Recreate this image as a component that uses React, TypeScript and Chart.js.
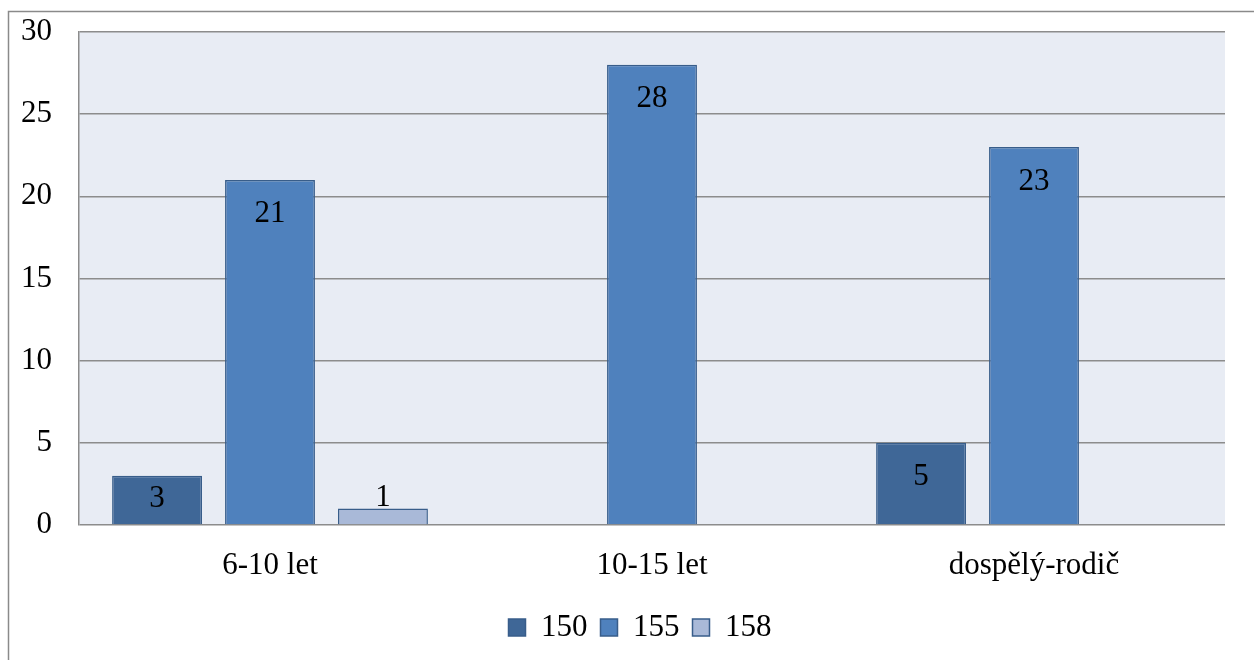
import { useEffect, useRef } from "react";
import { Chart, registerables } from "chart.js";

Chart.register(...registerables);

// Age groups on the category axis
const categories = ["6-10 let", "10-15 let", "dospělý-rodič"];
// Series names shown in the legend
const seriesNames = ["150", "155", "158"];
// Counts per series (null = no bar in that group)
const values150: (number | null)[] = [3, null, 5];
const values155: (number | null)[] = [21, 28, 23];
const values158: (number | null)[] = [1, null, null];
// Value axis range
const yMin = 0;
const yMax = 30;
const yStep = 5;

const FONT = '"Liberation Serif", "Times New Roman", serif';
const FONT_SIZE = 31;

// Outer frame and plot-area fill
const backgroundPlugin = {
  id: "frameAndPlotFill",
  afterLayout(chart: any) {
    // centre the legend under the plot rather than the whole canvas
    if (chart.legend) chart.legend.left += 55;
  },
  beforeDraw(chart: any) {
    const { ctx, chartArea } = chart;
    ctx.save();
    ctx.fillStyle = "#ffffff";
    ctx.fillRect(0, 0, chart.width, chart.height);
    ctx.strokeStyle = "#8a8a8a";
    ctx.lineWidth = 1.5;
    ctx.strokeRect(8.5, 11.5, chart.width + 20, chart.height + 20);
    ctx.fillStyle = "#e8ecf4";
    ctx.fillRect(
      chartArea.left,
      chartArea.top,
      chartArea.right - chartArea.left,
      chartArea.bottom - chartArea.top
    );
    ctx.restore();
  },
};

// Value labels near the end of each bar
const valueLabelPlugin = {
  id: "valueLabels",
  afterDatasetsDraw(chart: any) {
    const { ctx } = chart;
    ctx.save();
    ctx.font = `${FONT_SIZE}px ${FONT}`;
    ctx.fillStyle = "#000000";
    ctx.textAlign = "center";
    ctx.textBaseline = "alphabetic";
    const halfDigit = FONT_SIZE * 0.338;
    chart.data.datasets.forEach((ds: any, di: number) => {
      const meta = chart.getDatasetMeta(di);
      meta.data.forEach((bar: any, i: number) => {
        const v = ds.data[i];
        if (v === null || v === undefined) return;
        const top = bar.y;
        const h = bar.base - bar.y;
        let cy: number;
        if (h >= 64) cy = top + 32;
        else if (h >= 40) cy = top + h / 2 - 3;
        else cy = top - 13;
        ctx.fillText(String(v), bar.x, cy + halfDigit);
      });
    });
    ctx.restore();
  },
};

export default function App() {
  const canvasRef = useRef<HTMLCanvasElement | null>(null);

  useEffect(() => {
    if (!canvasRef.current) return;
    const borderColor = "#385d8a";
    const chart = new Chart(canvasRef.current, {
      type: "bar",
      data: {
        labels: categories,
        datasets: [
          {
            label: seriesNames[0],
            data: values150,
            backgroundColor: "#3f6797",
            borderColor,
            borderWidth: 1.5,
          },
          {
            label: seriesNames[1],
            data: values155,
            backgroundColor: "#4f81bd",
            borderColor,
            borderWidth: 1.5,
          },
          {
            label: seriesNames[2],
            data: values158,
            backgroundColor: "#a9b9d8",
            borderColor,
            borderWidth: 1.5,
          },
        ],
      },
      options: {
        responsive: false,
        animation: false,
        layout: { padding: { left: 0, top: 32, right: 29, bottom: 7 } },
        datasets: {
          bar: { categoryPercentage: 0.887, barPercentage: 0.796 },
        },
        scales: {
          x: {
            grid: { display: false, drawTicks: false },
            border: { display: false },
            ticks: {
              color: "#000000",
              font: { family: FONT, size: FONT_SIZE },
              padding: 22,
            },
            afterFit(scale: any) {
              scale.height = 74;
            },
          },
          y: {
            min: yMin,
            max: yMax,
            grid: { color: "#8c8c8c", lineWidth: 1.5, drawTicks: false },
            border: { display: true, color: "#8c8c8c", width: 1.5 },
            ticks: {
              stepSize: yStep,
              color: "#000000",
              font: { family: FONT, size: FONT_SIZE },
              padding: 27,
            },
            afterFit(scale: any) {
              scale.width = 79;
              scale.paddingTop = 0;
              scale.paddingBottom = 0;
            },
          },
        },
        plugins: {
          legend: {
            position: "bottom",
            labels: {
              color: "#000000",
              font: { family: FONT, size: FONT_SIZE },
              boxWidth: 17,
              boxHeight: 17,
              padding: 13,
            },
          },
          tooltip: { enabled: false },
        },
      },
      plugins: [backgroundPlugin, valueLabelPlugin],
    });
    return () => chart.destroy();
  }, []);

  return (
    <div style={{ position: "absolute", left: 0, top: 0, width: 1254, height: 660 }}>
      <canvas ref={canvasRef} width={1254} height={660} />
    </div>
  );
}
